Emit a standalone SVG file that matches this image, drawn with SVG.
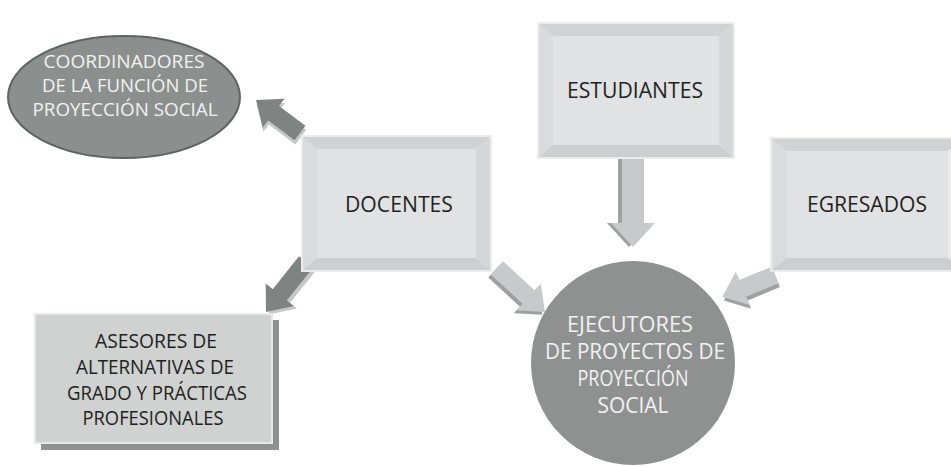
<svg xmlns="http://www.w3.org/2000/svg" width="951" height="466" viewBox="0 0 951 466">
<style>
text{font-family:"Open Sans","Liberation Sans",sans-serif;text-anchor:middle}
.dk{fill:#231f20;font-size:21.5px}
.as{fill:#231f20;font-size:20px}
.wt{fill:#f2f2f2;font-size:19px}
.wc{fill:#f2f2f2;font-size:21.5px}
.bo{fill:#ececec}
.bt{fill:#d1d2d3}
.bl{fill:#dadbdc}
.br{fill:#d6d7d8}
.bb{fill:#cdcecf}
.bi{fill:#e1e2e3}
.ad{fill:#7f8382}
.adx{fill:#c6c8c7}
.al{fill:#c8c9ca}
.alx{fill:#9fa1a1}
</style>
<defs>
<path id="a1" d="M0,-9 L33,-9 L33,-18 L55,0 L33,18 L33,9 L0,9 Z"/>
<path id="a2" d="M0,-9 L42,-9 L42,-18 L64,0 L42,18 L42,9 L0,9 Z"/>
<path id="a3" d="M0,-9 L43,-9 L43,-18 L65,0 L43,18 L43,9 L0,9 Z"/>
<path id="a4" d="M0,-11 L65,-11 L65,-22 L89,0 L65,22 L65,11 L0,11 Z"/>
<path id="a5" d="M0,-9 L35,-9 L35,-18 L57,0 L35,18 L35,9 L0,9 Z"/>
</defs>
<rect width="951" height="466" fill="#ffffff"/>

<g id="connectors">
<g transform="translate(300,133) rotate(216.9)">
<use href="#a1" class="adx" transform="translate(-3,-3)"/>
<use href="#a1" class="ad"/>
</g>
<g transform="translate(306,262) rotate(128.7)">
<use href="#a2" class="adx" transform="translate(0,-4)"/>
<use href="#a2" class="ad"/>
</g>
<g transform="translate(497,268) rotate(42.5)">
<use href="#a3" class="alx" transform="translate(0,4)"/>
<use href="#a3" class="al"/>
</g>
<g transform="translate(633,158) rotate(90)">
<use href="#a4" class="alx" transform="translate(0,4)"/>
<use href="#a4" class="al"/>
</g>
<g transform="translate(775,275) rotate(157.5)">
<use href="#a5" class="alx" transform="translate(0,-4)"/>
<use href="#a5" class="al"/>
</g>
</g>

<g id="coordinadores">
<ellipse cx="124" cy="97" rx="116" ry="61" fill="#8b8f8d" stroke="#5d6461" stroke-width="2"/>
<text class="wt" x="124" y="68" textLength="161" lengthAdjust="spacingAndGlyphs">COORDINADORES</text>
<text class="wt" x="125" y="92" textLength="166" lengthAdjust="spacingAndGlyphs">DE LA FUNCIÓN DE</text>
<text class="wt" x="125" y="116" textLength="185" lengthAdjust="spacingAndGlyphs">PROYECCIÓN SOCIAL</text>
</g>

<g id="docentes">
<rect class="bo" x="301" y="135" width="191" height="137"/>
<polygon class="bt" points="303,137 490,137 476,149 317,149"/>
<polygon class="bl" points="303,137 317,149 317,258 303,270"/>
<polygon class="br" points="490,137 490,270 476,258 476,149"/>
<polygon class="bb" points="303,270 317,258 476,258 490,270"/>
<rect class="bi" x="317" y="149" width="159" height="109"/>
<text class="dk" x="399" y="212" textLength="108" lengthAdjust="spacingAndGlyphs">DOCENTES</text>
</g>

<g id="estudiantes">
<rect class="bo" x="537" y="22" width="198" height="137"/>
<polygon class="bt" points="539,24 733,24 719,36 553,36"/>
<polygon class="bl" points="539,24 553,36 553,145 539,157"/>
<polygon class="br" points="733,24 733,157 719,145 719,36"/>
<polygon class="bb" points="539,157 553,145 719,145 733,157"/>
<rect class="bi" x="553" y="36" width="166" height="109"/>
<text class="dk" x="635" y="98" textLength="136" lengthAdjust="spacingAndGlyphs">ESTUDIANTES</text>
</g>

<g id="egresados">
<rect class="bo" x="770" y="137" width="194" height="135"/>
<polygon class="bt" points="772,139 962,139 948,151 786,151"/>
<polygon class="bl" points="772,139 786,151 786,258 772,270"/>
<polygon class="bb" points="772,270 786,258 948,258 962,270"/>
<rect class="bi" x="786" y="151" width="162" height="107"/>
<text class="dk" x="867" y="212" textLength="120" lengthAdjust="spacingAndGlyphs">EGRESADOS</text>
</g>

<g id="asesores">
<rect x="41" y="320" width="238" height="130" fill="#8f9191"/>
<rect x="35" y="314" width="237" height="129" fill="#d0d1d1" stroke="#e8e8e8" stroke-width="2"/>
<text class="as" x="156" y="348" textLength="122" lengthAdjust="spacingAndGlyphs">ASESORES DE</text>
<text class="as" x="155" y="374" textLength="158" lengthAdjust="spacingAndGlyphs">ALTERNATIVAS DE</text>
<text class="as" x="157" y="400" textLength="180" lengthAdjust="spacingAndGlyphs">GRADO Y PRÁCTICAS</text>
<text class="as" x="153" y="425" textLength="141" lengthAdjust="spacingAndGlyphs">PROFESIONALES</text>
</g>

<g id="ejecutores">
<circle cx="633" cy="363" r="102" fill="#8e9190"/>
<text class="wc" x="630" y="332" textLength="126" lengthAdjust="spacingAndGlyphs">EJECUTORES</text>
<text class="wc" x="635" y="359" textLength="180" lengthAdjust="spacingAndGlyphs">DE PROYECTOS DE</text>
<text class="wc" x="633" y="386" textLength="111" lengthAdjust="spacingAndGlyphs">PROYECCIÓN</text>
<text class="wc" x="633" y="413" textLength="71" lengthAdjust="spacingAndGlyphs">SOCIAL</text>
</g>
</svg>
